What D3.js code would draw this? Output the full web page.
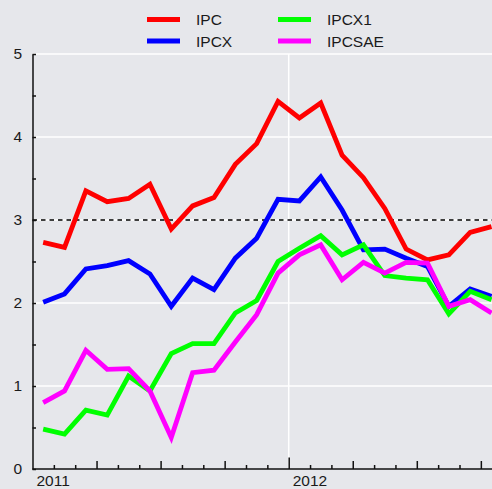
<!DOCTYPE html>
<html>
<head>
<meta charset="utf-8">
<script src="https://cdn.jsdelivr.net/npm/d3@7"></script>
<style>
  html, body { margin: 0; padding: 0; background: #e6e7eb; }
  svg { display: block; }
  text { font-family: "Liberation Sans", Arial, sans-serif; fill: #1a1a1a; }
</style>
</head>
<body>
<svg id="chart" width="492" height="489"></svg>
<script>
// ---- data ----
const months = ["2011-01","2011-02","2011-03","2011-04","2011-05","2011-06","2011-07","2011-08","2011-09","2011-10","2011-11","2011-12",
                "2012-01","2012-02","2012-03","2012-04","2012-05","2012-06","2012-07","2012-08","2012-09","2012-10"];
const IPC    = [2.73,2.67,3.35,3.22,3.26,3.43,2.89,3.17,3.27,3.67,3.92,4.43,4.23,4.41,3.78,3.51,3.14,2.65,2.52,2.58,2.85,2.92];
const IPCX   = [2.01,2.11,2.41,2.45,2.51,2.35,1.96,2.30,2.16,2.54,2.78,3.25,3.23,3.52,3.12,2.64,2.65,2.54,2.44,1.96,2.17,2.08];
const IPCX1  = [0.48,0.42,0.71,0.65,1.12,0.94,1.39,1.51,1.51,1.88,2.03,2.50,2.66,2.81,2.58,2.70,2.33,2.30,2.28,1.87,2.14,2.04];
const IPCSAE = [0.80,0.94,1.43,1.20,1.21,0.94,0.38,1.16,1.19,1.53,1.86,2.36,2.58,2.70,2.28,2.49,2.36,2.49,2.48,1.96,2.04,1.88];
const seriesNames  = ["IPC","IPCX","IPCX1","IPCSAE"];
const seriesColors = ["#ff0000","#0000ff","#00ff00","#ff00ff"];
const yTicks = [0,0.5,1,1.5,2,2.5,3,3.5,4,4.5,5];
const yearLabels = ["2011","2012"];
const refLevel = 3;

// ---- layout ----
const svg = d3.select("#chart");
const padL = 32.5, padB = 469, padT = 54, monthW = 21.35;
const startYear = 2011;
const mIndex = s => (+s.slice(0,4) - startYear) * 12 + (+s.slice(5,7) - 1);

const x = d3.scaleLinear().domain([0, 24]).range([padL, padL + 24 * monthW]);
const y = d3.scaleLinear().domain([0, 5]).range([padB, padT]);

// grid
const g = svg.append("g");
g.selectAll("line.hg").data([1,2,3,4,5]).join("line")
  .attr("x1", padL).attr("x2", 492)
  .attr("y1", d => y(d)).attr("y2", d => y(d))
  .attr("stroke", "#ffffff").attr("stroke-width", 1.5);
g.append("line")
  .attr("x1", x(12)).attr("x2", x(12)).attr("y1", padT).attr("y2", padB)
  .attr("stroke", "#ffffff").attr("stroke-width", 1.5);
g.append("line")
  .attr("x1", padL).attr("x2", 492)
  .attr("y1", y(refLevel)).attr("y2", y(refLevel))
  .attr("stroke", "#000").attr("stroke-width", 1.4)
  .attr("stroke-dasharray", "4.5,4");

// x axis ticks
const allMonths = d3.range(0, 24);
function xTicks(vals, size) {
  svg.append("g").attr("transform", `translate(0,${padB})`)
    .call(d3.axisTop(x).tickValues(vals).tickSize(size).tickFormat(""))
    .call(a => a.select(".domain").remove())
    .call(a => a.selectAll("line").attr("stroke", "#111").attr("stroke-width", 1.5));
}
xTicks(allMonths.filter(m => m % 3 !== 0), 4);
xTicks(allMonths.filter(m => m % 3 === 0 && m % 12 !== 0), 8);
xTicks(allMonths.filter(m => m % 12 === 0 && m > 0), 11.5);
svg.append("line").attr("x1", padL).attr("x2", 492).attr("y1", padB).attr("y2", padB)
  .attr("stroke", "#111").attr("stroke-width", 1.5);

svg.selectAll("text.yr").data(yearLabels).join("text")
  .attr("x", (d, i) => x(i * 12) + 4).attr("y", 486)
  .attr("font-size", 15.5).text(d => d);

// y axis
svg.append("g").attr("transform", `translate(${padL},0)`)
  .call(d3.axisLeft(y).tickValues(yTicks).tickSizeInner(-3.5).tickSizeOuter(0).tickPadding(10.5)
    .tickFormat(d => Number.isInteger(d) ? d : ""))
  .call(a => a.select(".domain").attr("stroke", "#111").attr("stroke-width", 1.5))
  .call(a => a.selectAll("line").attr("stroke", "#111").attr("stroke-width", 1.5))
  .call(a => a.selectAll("text").attr("font-size", 15.5).attr("font-family", '"Liberation Sans", Arial, sans-serif').attr("fill", "#1a1a1a"));

// lines
const dataSets = [IPC, IPCX, IPCX1, IPCSAE];
const line = d3.line().x((d, i) => x(mIndex(months[i]) + 0.5)).y(d => y(d));
svg.append("g").selectAll("path").data(dataSets).join("path")
  .attr("d", d => line(d))
  .attr("fill", "none")
  .attr("stroke", (d, i) => seriesColors[i])
  .attr("stroke-width", 4.8)
  .attr("stroke-linejoin", "miter");

// legend
const leg = svg.append("g");
const legPos = [[147, 19.5], [147, 41], [278, 19.5], [278, 41]];
seriesNames.forEach((n, i) => {
  const [lx, ly] = legPos[i];
  leg.append("line").attr("x1", lx).attr("x2", lx + 33).attr("y1", ly).attr("y2", ly)
    .attr("stroke", seriesColors[i]).attr("stroke-width", 4.8);
  leg.append("text").attr("x", lx + 49).attr("y", ly + 5.5).attr("font-size", 15.5).text(n);
});
</script>
</body>
</html>
